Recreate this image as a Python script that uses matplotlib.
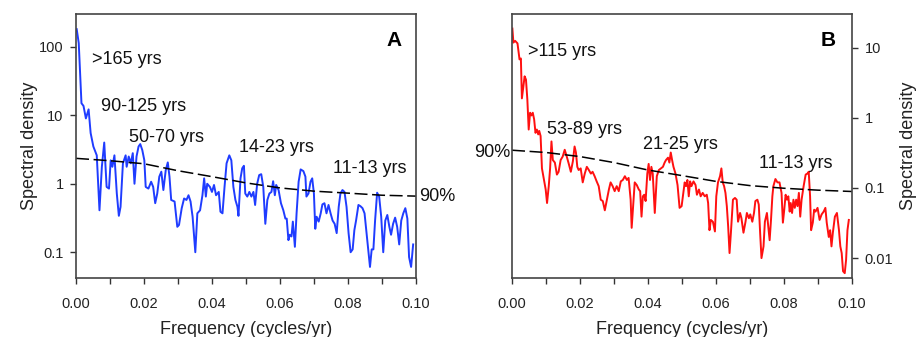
import numpy as np
import matplotlib
matplotlib.use("Agg")
import matplotlib.pyplot as plt
from matplotlib.ticker import MultipleLocator, FixedLocator, NullLocator

plt.rcParams['font.family'] = ['Liberation Sans', 'DejaVu Sans']

# Panel A (blue) spectrum
freq_a = [0.0002, 0.0008, 0.0016, 0.0022, 0.0029, 0.0037, 0.0043, 0.0051, 0.0061, 0.0069,
          0.0076, 0.0083, 0.0090, 0.0097, 0.0102, 0.0107, 0.0113, 0.0120, 0.0126, 0.0131,
          0.0138, 0.0146, 0.0149, 0.0155, 0.0161, 0.0167, 0.0172, 0.0178, 0.0184, 0.0189,
          0.0195, 0.0201, 0.0205, 0.0213, 0.0221, 0.0227, 0.0233, 0.0239, 0.0245, 0.0251,
          0.0257, 0.0264, 0.0270, 0.0275, 0.0280, 0.0290, 0.0298, 0.0303, 0.0311, 0.0318,
          0.0325, 0.0331, 0.0337, 0.0343, 0.0351, 0.0357, 0.0365, 0.0372, 0.0377, 0.0382,
          0.0386, 0.0394, 0.0400, 0.0406, 0.0412, 0.0420, 0.0425, 0.0431, 0.0437, 0.0443,
          0.0451, 0.0457, 0.0463, 0.0469, 0.0475, 0.0478, 0.0484, 0.0489, 0.0494, 0.0498,
          0.0504, 0.0510, 0.0516, 0.0522, 0.0527, 0.0533, 0.0539, 0.0545, 0.0551, 0.0557,
          0.0563, 0.0569, 0.0575, 0.0580, 0.0585, 0.0589, 0.0596, 0.0603, 0.0610, 0.0616,
          0.0620, 0.0625, 0.0629, 0.0634, 0.0638, 0.0644, 0.0649, 0.0655, 0.0661, 0.0669,
          0.0675, 0.0678, 0.0684, 0.0690, 0.0695, 0.0700, 0.0704, 0.0708, 0.0714, 0.0720,
          0.0725, 0.0731, 0.0737, 0.0743, 0.0749, 0.0755, 0.0761, 0.0767, 0.0773, 0.0778,
          0.0784, 0.0790, 0.0796, 0.0802, 0.0808, 0.0814, 0.0819, 0.0824, 0.0831, 0.0837,
          0.0843, 0.0849, 0.0855, 0.0861, 0.0865, 0.0870, 0.0875, 0.0880, 0.0886, 0.0892,
          0.0898, 0.0904, 0.0910, 0.0916, 0.0922, 0.0927, 0.0933, 0.0939, 0.0945, 0.0951,
          0.0957, 0.0963, 0.0969, 0.0975, 0.0980, 0.0986, 0.0992]
dens_a = [181, 113, 15, 13.7, 9.0, 12.2, 5.5, 3.5, 2.6, 0.41,
          1.77, 4.0, 0.90, 0.85, 2.2, 1.77, 2.6, 0.72, 0.34, 0.46,
          1.99, 2.6, 1.77, 2.5, 1.99, 2.8, 1.0, 2.5, 3.5, 3.8,
          3.1, 2.2, 0.90, 0.85, 1.07, 0.90, 0.52, 0.72, 1.27, 1.5,
          0.81, 1.58, 2.05, 1.27, 0.58, 0.55, 0.235, 0.25, 0.44, 0.61,
          0.58, 0.68, 0.55, 0.33, 0.10, 0.37, 0.41, 0.68, 1.2, 0.65,
          1.0, 0.90, 0.76, 0.96, 0.68, 0.76, 0.39, 0.37, 0.90, 1.99,
          2.6, 2.2, 0.90, 0.58, 0.46, 0.34, 1.2, 1.68, 1.83, 0.72,
          0.65, 0.76, 0.65, 0.76, 0.49, 1.0, 1.34, 1.38, 0.90, 0.26,
          0.58, 0.72, 0.76, 1.09, 0.68, 0.96, 0.81, 0.52, 0.41, 0.31,
          0.31, 0.15, 0.18, 0.17, 0.28, 0.12, 0.37, 1.07, 1.62, 1.53,
          1.27, 0.65, 0.72, 1.07, 1.2, 0.72, 0.22, 0.33, 0.28, 0.37,
          0.50, 0.52, 0.37, 0.49, 0.37, 0.29, 0.26, 0.19, 0.46, 0.72,
          0.81, 0.76, 0.46, 0.19, 0.10, 0.11, 0.21, 0.29, 0.49, 0.47,
          0.44, 0.37, 0.19, 0.096, 0.061, 0.11, 0.11, 0.29, 0.74, 0.65,
          0.33, 0.10, 0.29, 0.35, 0.235, 0.18, 0.26, 0.32, 0.235, 0.13,
          0.29, 0.37, 0.44, 0.31, 0.085, 0.061, 0.13]

# Panel B (red) spectrum
freq_b = [0.0001, 0.0004, 0.0009, 0.0016, 0.0022, 0.0026, 0.0029, 0.0033, 0.0037, 0.0041,
          0.0045, 0.0049, 0.0053, 0.0057, 0.0061, 0.0065, 0.0069, 0.0073, 0.0077, 0.0080,
          0.0084, 0.0088, 0.0094, 0.0099, 0.0103, 0.0108, 0.0112, 0.0116, 0.0120, 0.0126,
          0.0132, 0.0137, 0.0143, 0.0149, 0.0155, 0.0161, 0.0167, 0.0173, 0.0179, 0.0184,
          0.0188, 0.0192, 0.0196, 0.0202, 0.0208, 0.0214, 0.0220, 0.0226, 0.0232, 0.0237,
          0.0243, 0.0249, 0.0255, 0.0261, 0.0267, 0.0273, 0.0279, 0.0285, 0.0290, 0.0296,
          0.0302, 0.0308, 0.0314, 0.0320, 0.0326, 0.0332, 0.0338, 0.0343, 0.0349, 0.0352,
          0.0357, 0.0361, 0.0367, 0.0373, 0.0377, 0.0381, 0.0385, 0.0389, 0.0393, 0.0398,
          0.0402, 0.0406, 0.0410, 0.0414, 0.0420, 0.0426, 0.0432, 0.0438, 0.0444, 0.0449,
          0.0453, 0.0459, 0.0463, 0.0467, 0.0471, 0.0475, 0.0481, 0.0487, 0.0493, 0.0499,
          0.0504, 0.0508, 0.0512, 0.0516, 0.0520, 0.0524, 0.0528, 0.0534, 0.0540, 0.0544,
          0.0550, 0.0555, 0.0561, 0.0567, 0.0573, 0.0577, 0.0581, 0.0585, 0.0591, 0.0597,
          0.0601, 0.0606, 0.0612, 0.0616, 0.0620, 0.0624, 0.0628, 0.0632, 0.0636, 0.0640,
          0.0644, 0.0650, 0.0656, 0.0661, 0.0665, 0.0671, 0.0675, 0.0681, 0.0687, 0.0691,
          0.0697, 0.0701, 0.0707, 0.0712, 0.0716, 0.0722, 0.0726, 0.0730, 0.0734, 0.0740,
          0.0744, 0.0750, 0.0754, 0.0758, 0.0762, 0.0766, 0.0769, 0.0775, 0.0781, 0.0787,
          0.0793, 0.0797, 0.0801, 0.0805, 0.0809, 0.0813, 0.0817, 0.0820, 0.0824, 0.0828,
          0.0832, 0.0836, 0.0840, 0.0844, 0.0848, 0.0852, 0.0858, 0.0864, 0.0869, 0.0873,
          0.0877, 0.0880, 0.0885, 0.0889, 0.0893, 0.0899, 0.0905, 0.0911, 0.0917, 0.0922,
          0.0926, 0.0932, 0.0936, 0.0940, 0.0944, 0.0950, 0.0956, 0.0962, 0.0966, 0.0970,
          0.0974, 0.0979, 0.0983, 0.0987, 0.0991]
dens_b = [18.7, 11.8, 12.5, 11.5, 6.8, 7.0, 1.89, 2.7, 3.9, 3.5,
          1.83, 0.68, 1.18, 1.08, 1.18, 0.95, 0.61, 0.68, 0.58, 0.65,
          0.55, 0.19, 0.13, 0.095, 0.061, 0.106, 0.19, 0.46, 0.25, 0.23,
          0.155, 0.17, 0.25, 0.28, 0.35, 0.28, 0.22, 0.17, 0.24, 0.39,
          0.32, 0.20, 0.18, 0.19, 0.12, 0.16, 0.20, 0.18, 0.16, 0.17,
          0.147, 0.124, 0.106, 0.068, 0.065, 0.048, 0.068, 0.095, 0.12, 0.106,
          0.09, 0.106, 0.09, 0.124, 0.13, 0.147, 0.13, 0.139, 0.068, 0.027,
          0.061, 0.12, 0.11, 0.095, 0.09, 0.039, 0.076, 0.08, 0.065, 0.16,
          0.22, 0.13, 0.20, 0.16, 0.044, 0.147, 0.18, 0.19, 0.20, 0.23,
          0.25, 0.27, 0.23, 0.32, 0.25, 0.20, 0.16, 0.11, 0.052, 0.055,
          0.085, 0.12, 0.106, 0.13, 0.076, 0.124, 0.106, 0.124, 0.11, 0.08,
          0.095, 0.076, 0.085, 0.076, 0.08, 0.061, 0.025, 0.035, 0.033, 0.024,
          0.076, 0.12, 0.147, 0.19, 0.12, 0.106, 0.085, 0.055, 0.028, 0.0118,
          0.023, 0.068, 0.072, 0.068, 0.033, 0.044, 0.037, 0.023, 0.033, 0.044,
          0.037, 0.042, 0.033, 0.044, 0.065, 0.068, 0.058, 0.023, 0.010, 0.0147,
          0.033, 0.044, 0.028, 0.018, 0.035, 0.076, 0.106, 0.134, 0.12, 0.12,
          0.085, 0.032, 0.049, 0.08, 0.068, 0.076, 0.046, 0.061, 0.044, 0.068,
          0.052, 0.068, 0.055, 0.085, 0.039, 0.068, 0.106, 0.155, 0.16, 0.17,
          0.076, 0.025, 0.032, 0.049, 0.046, 0.052, 0.035, 0.042, 0.046, 0.052,
          0.032, 0.020, 0.025, 0.0147, 0.023, 0.039, 0.044, 0.025, 0.0147, 0.0118,
          0.0065, 0.0061, 0.0095, 0.025, 0.035]

# 90% confidence levels
conf_freq = [0.0, 0.01, 0.02, 0.03, 0.04, 0.05, 0.06, 0.07, 0.08, 0.09, 0.10]
conf_a = [2.35, 2.17, 1.96, 1.55, 1.27, 1.03, 0.87, 0.78, 0.73, 0.68, 0.66]
conf_b = [0.345, 0.32, 0.28, 0.23, 0.18, 0.15, 0.124, 0.108, 0.099, 0.093, 0.089]

labels_a = [">165 yrs", "90-125 yrs", "50-70 yrs", "14-23 yrs", "11-13 yrs"]
labels_a_pos = [(0.0047, 66), (0.0073, 13.3), (0.0156, 4.8), (0.0480, 3.4), (0.0756, 1.69)]
labels_b = [">115 yrs", "53-89 yrs", "21-25 yrs", "11-13 yrs"]
labels_b_pos = [(0.0047, 8.7), (0.0103, 0.67), (0.0385, 0.42), (0.0726, 0.225)]

fig = plt.figure(figsize=(9.16, 3.37), dpi=100)
ax1 = fig.add_axes([0.083, 0.175, 0.371, 0.783])
ax2 = fig.add_axes([0.559, 0.175, 0.371, 0.783])

dash = (0, (8.5, 3))
ax1.plot(freq_a, dens_a, color='#1f3cff', lw=1.4)
ax1.plot(conf_freq, conf_a, color='black', lw=1.1, ls=dash)
ax2.plot(freq_b, dens_b, color='#ff1010', lw=1.4)
ax2.plot(conf_freq, conf_b, color='black', lw=1.1, ls=dash)

for ax in (ax1, ax2):
    ax.set_yscale('log')
    ax.set_xlim(0, 0.1)
    ax.xaxis.set_major_locator(MultipleLocator(0.02))
    ax.xaxis.set_minor_locator(MultipleLocator(0.01))
    ax.xaxis.set_major_formatter(plt.FuncFormatter(lambda v, p: f"{v:.2f}"))
    ax.yaxis.set_minor_locator(NullLocator())
    ax.tick_params(which='both', direction='out', length=4, width=1, colors='#333333',
                   labelsize=10.5, labelcolor='#222222')
    ax.tick_params(axis='x', pad=10)
    ax.tick_params(axis='y', pad=5)
    for s in ax.spines.values():
        s.set_color('#444444')
        s.set_linewidth(1.2)
    ax.set_xlabel("Frequency (cycles/yr)", fontsize=13, color='#222222', labelpad=7)

ax1.set_ylim(0.042, 300)
ax1.yaxis.set_major_locator(FixedLocator([0.1, 1, 10, 100]))
ax1.yaxis.set_major_formatter(plt.FuncFormatter(lambda v, p: f"{v:g}"))
ax1.set_ylabel("Spectral density", fontsize=13, color='#222222', labelpad=1)

ax2.set_ylim(0.0052, 30)
ax2.yaxis.set_major_locator(FixedLocator([0.01, 0.1, 1, 10]))
ax2.yaxis.set_major_formatter(plt.FuncFormatter(lambda v, p: f"{v:g}"))
ax2.yaxis.tick_right()
ax2.yaxis.set_label_position('right')
ax2.set_ylabel("Spectral density", fontsize=13, color='#222222', labelpad=5, rotation=90)

for txt, (x, y) in zip(labels_a, labels_a_pos):
    ax1.text(x, y, txt, fontsize=13, va='center', ha='left', color='#111111')
for txt, (x, y) in zip(labels_b, labels_b_pos):
    ax2.text(x, y, txt, fontsize=13, va='center', ha='left', color='#111111')

ax1.text(1.01, conf_a[-1], "90%", transform=ax1.get_yaxis_transform(), fontsize=13,
         va='center', ha='left', color='#111111')
ax2.text(-0.005, conf_b[0] * 0.92, "90%", transform=ax2.get_yaxis_transform(), fontsize=13,
         va='center', ha='right', color='#111111')

ax1.text(0.935, 0.9, "A", transform=ax1.transAxes, fontsize=15, fontweight='bold',
         ha='center', va='center')
ax2.text(0.93, 0.9, "B", transform=ax2.transAxes, fontsize=15, fontweight='bold',
         ha='center', va='center')

fig.savefig("out.png", dpi=100)
